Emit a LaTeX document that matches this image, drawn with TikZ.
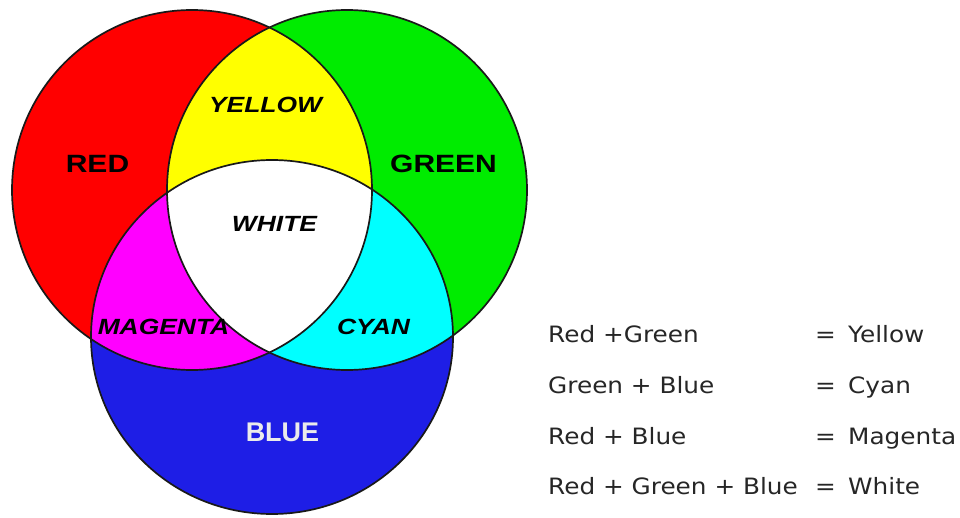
\documentclass[tikz,border=0pt]{standalone}
\usepackage{fontspec}
\newfontfamily\vennfont[FakeStretch=1.2]{Liberation Sans}
\newfontfamily\bluefont{Liberation Sans}
\newfontfamily\mixfont[FakeStretch=1.1]{DejaVu Sans}
\definecolor{redc}{RGB}{255,0,0}
\definecolor{greenc}{RGB}{0,236,0}
\definecolor{bluec}{RGB}{30,30,230}
\definecolor{yellowc}{RGB}{255,255,0}
\definecolor{magentac}{RGB}{255,0,255}
\definecolor{cyanc}{RGB}{0,255,255}

\begin{document}
\begin{tikzpicture}[x=1pt,y=-1pt]
\tikzset{
  rim/.style={draw=black!90,line width=1.7pt},
  bigname/.style={inner sep=0pt,font=\vennfont\bfseries\fontsize{25}{30}\selectfont},
  mixname/.style={inner sep=0pt,font=\vennfont\bfseries\itshape\fontsize{22}{26}\selectfont},
  eqtext/.style={anchor=base west,inner sep=0pt,text=black!85,font=\mixfont\fontsize{22.5}{27}\selectfont}
}
\useasboundingbox (0,0) rectangle (960,518);
\coordinate (c_r) at (192,190);
\coordinate (c_g) at (347,190);
\coordinate (c_b) at (272,337);
\fill[redc] (c_r) circle[radius=180pt];
\fill[greenc] (c_g) circle[radius=180pt];
\fill[bluec] (c_b) ellipse[x radius=181pt,y radius=177pt];
\begin{scope}
  \clip (c_r) circle[radius=180pt];
  \fill[yellowc] (c_g) circle[radius=180pt];
  \fill[magentac] (c_b) ellipse[x radius=181pt,y radius=177pt];
\end{scope}
\begin{scope}
  \clip (c_g) circle[radius=180pt];
  \fill[cyanc] (c_b) ellipse[x radius=181pt,y radius=177pt];
  \clip (c_r) circle[radius=180pt];
  \fill[white] (c_b) ellipse[x radius=181pt,y radius=177pt];
\end{scope}
\draw[rim] (c_r) circle[radius=180pt];
\draw[rim] (c_g) circle[radius=180pt];
\draw[rim] (c_b) ellipse[x radius=181pt,y radius=177pt];
\node[bigname] (n_red) at (97.5,164) {RED};
\node[bigname] (n_green) at (443.5,164) {GREEN};
\node[mixname] (n_yellow) at (265.5,105) {YELLOW};
\node[mixname] (n_white) at (274.5,224) {WHITE};
\node[mixname] (n_magenta) at (163.5,326.5) {MAGENTA};
\node[mixname] (n_cyan) at (373.5,326.5) {CYAN};
\node[inner sep=0pt,text=black!8,font=\bluefont\bfseries\fontsize{27}{32}\selectfont] (n_blue) at (282.5,432.5) {BLUE};
\node[eqtext] (s1) at (548,342) {Red +Green};
\node[eqtext] (s2) at (548,393) {Green + Blue};
\node[eqtext] (s3) at (548,444) {Red + Blue};
\node[eqtext] (s4) at (548,494) {Red + Green + Blue};
\node[eqtext] (e1) at (815,342) {=};
\node[eqtext] (e2) at (815,393) {=};
\node[eqtext] (e3) at (815,444) {=};
\node[eqtext] (e4) at (815,494) {=};
\node[eqtext] (r1) at (848,342) {Yellow};
\node[eqtext] (r2) at (848,393) {Cyan};
\node[eqtext] (r3) at (848,444) {Magenta};
\node[eqtext] (r4) at (848,494) {White};
\end{tikzpicture}
\end{document}
